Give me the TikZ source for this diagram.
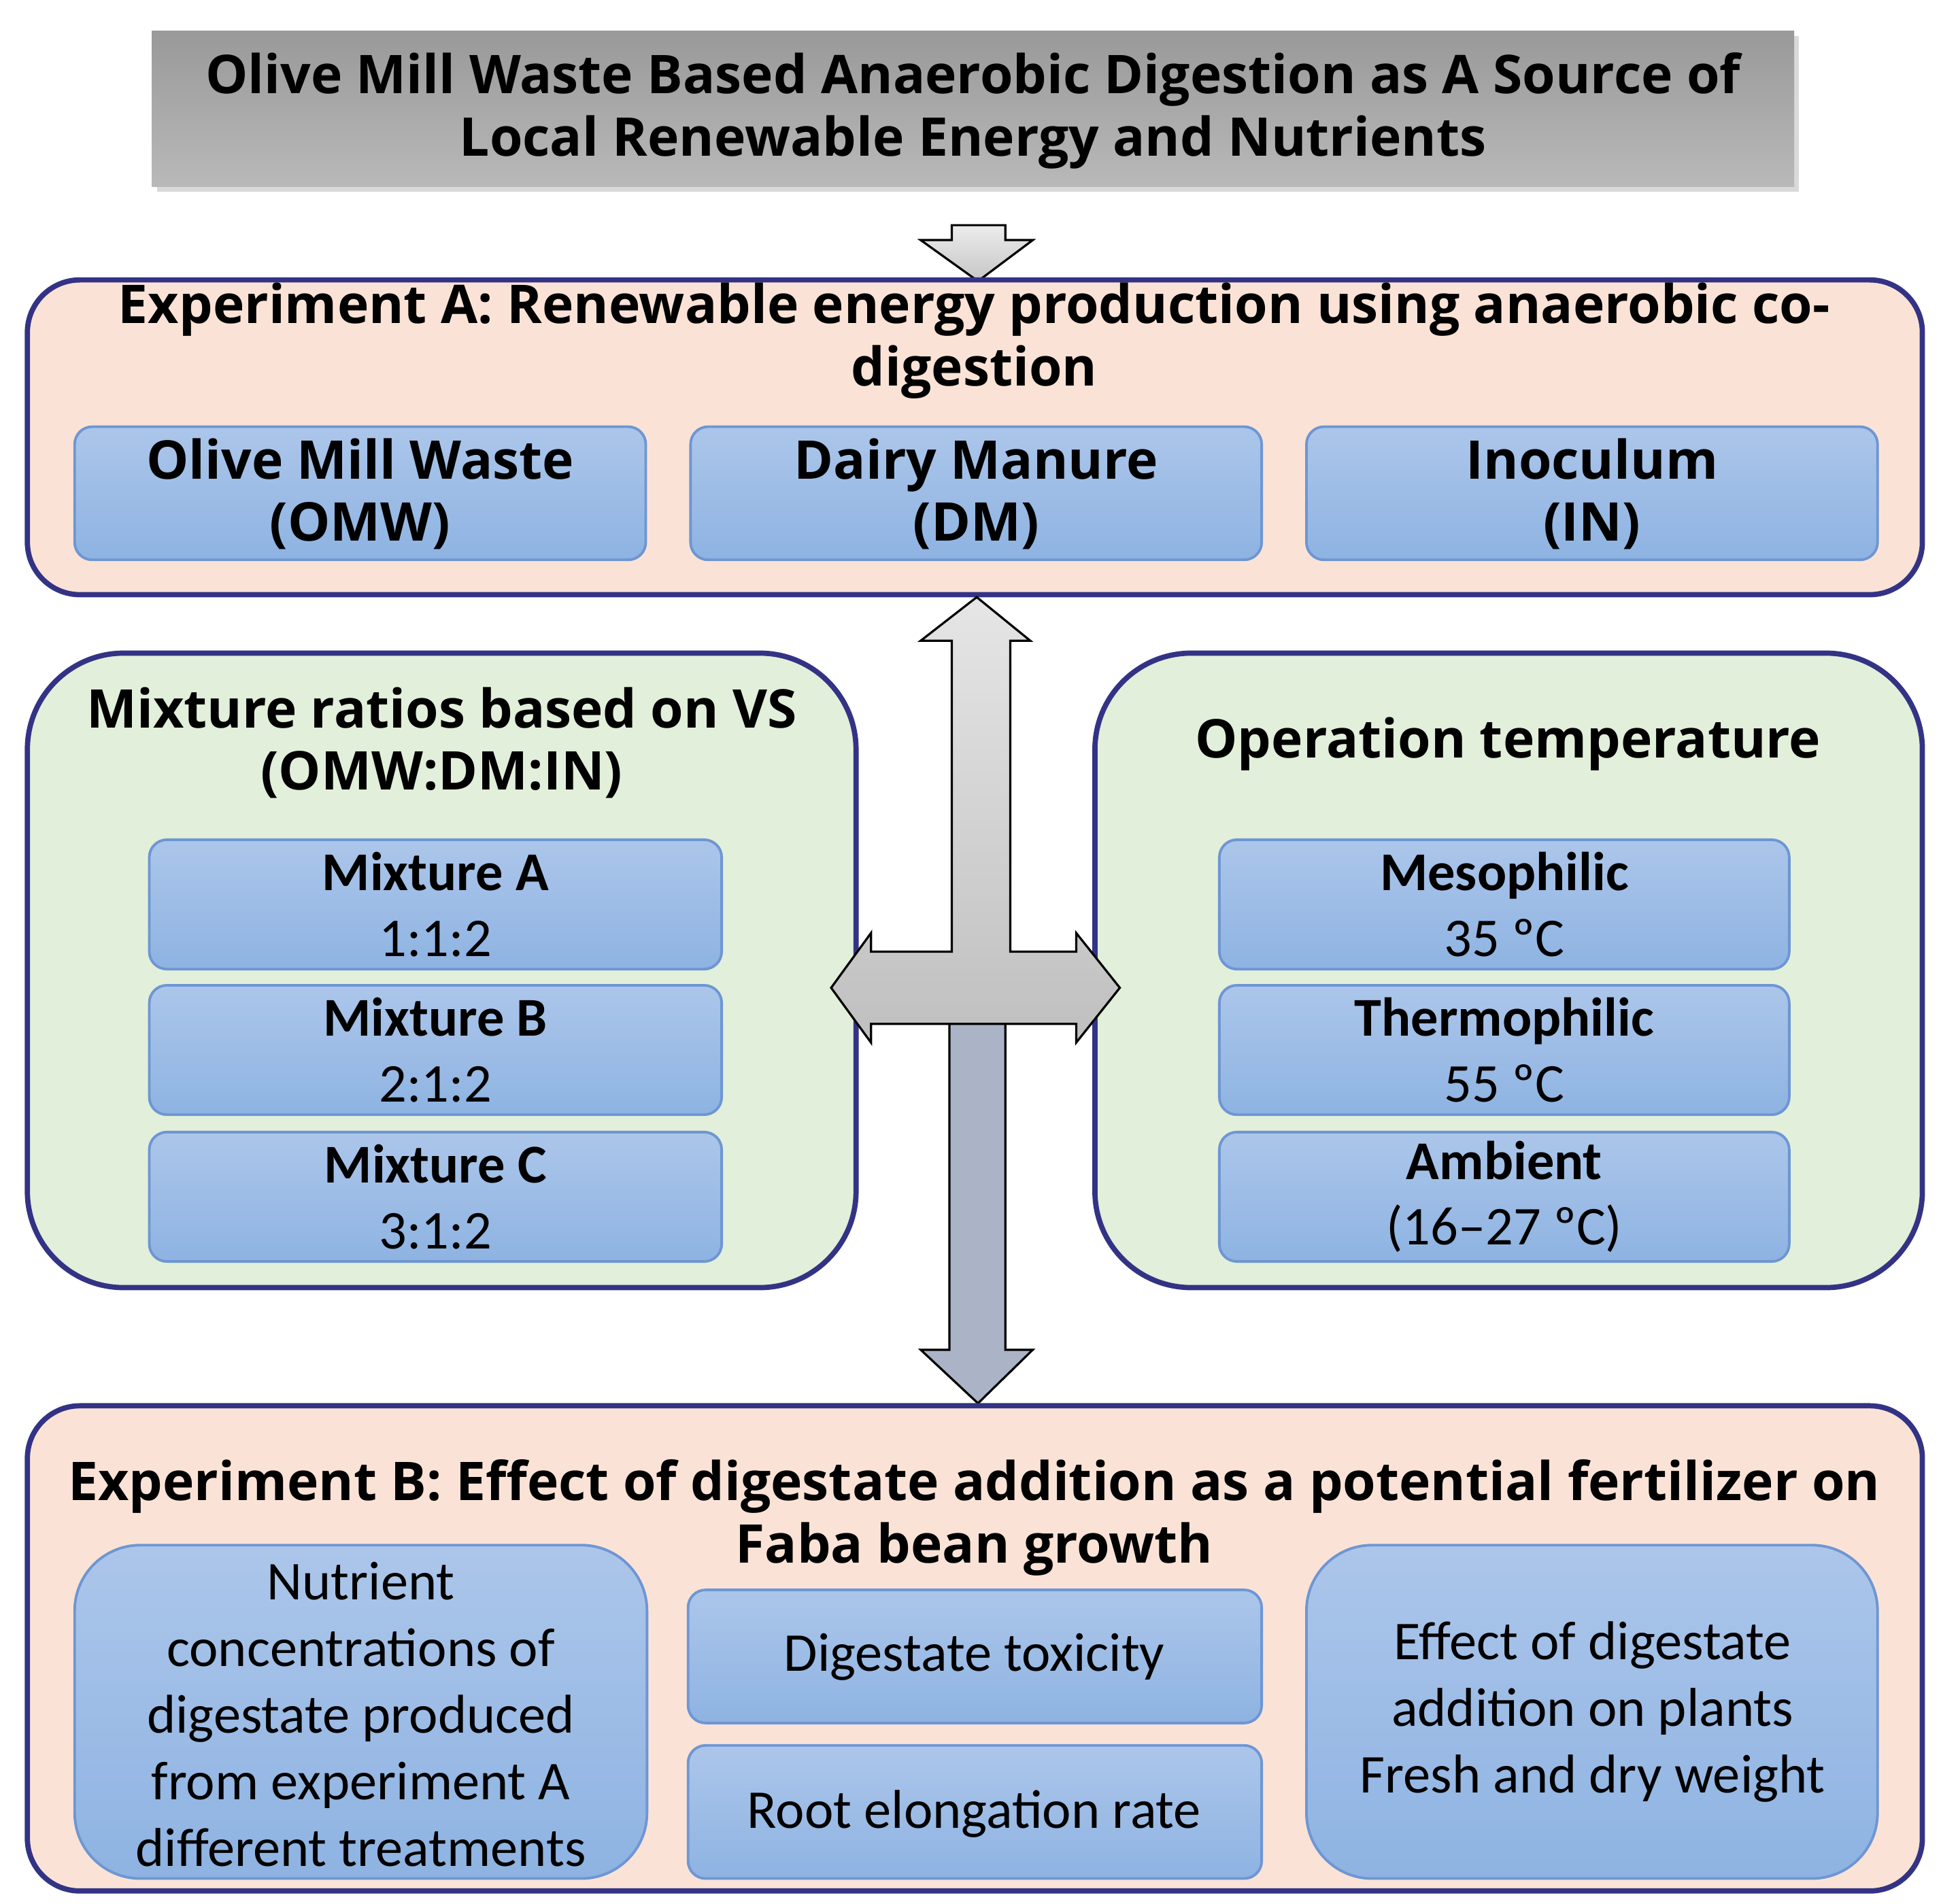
\documentclass[tikz,border=0pt]{standalone}
\usepackage{fontspec}
\setmainfont{Carlito}
\newfontfamily\hdr{Open Sans}
\begin{document}
\begin{tikzpicture}[x=0.01cm,y=-0.01cm,
  outer/.style={draw=blue!40!black!80,line width=1.2pt,rounded corners=12pt},
  peach/.style={outer,fill={rgb,255:red,250;green,227;blue,214}},
  green/.style={outer,fill={rgb,255:red,226;green,239;blue,218},rounded corners=22pt},
  inner/.style={draw={rgb,255:red,110;green,150;blue,212},line width=0.6pt,rounded corners=4pt,
    top color={rgb,255:red,172;green,198;blue,234},bottom color={rgb,255:red,142;green,179;blue,226}},
  H/.style={font=\hdr\bfseries\fontsize{12.2}{14.2}\selectfont,align=center},
  R/.style={font=\fontsize{12.5}{15}\selectfont,align=center},
  arr/.style={draw=black,line width=0.5pt}]
\useasboundingbox (0,0) rectangle (1560,1530);
% title
\fill[gray!30] (126,29) rectangle (1446,154);
\node[draw=none,top color=gray!80,bottom color=gray!55,minimum width=1320*0.01cm,minimum height=125*0.01cm,inner sep=0] (title) at (782,87.5) {};
\node[H] (tt) at (782,89) {Olive Mill Waste Based Anaerobic Digestion as A Source of\\Local Renewable Energy and Nutrients};
% small arrow
\path[arr,top color=gray!15,bottom color=gray!45] (765,181)--(808,181)--(808,193)--(830,193)--(786,226)--(740,193)--(765,193)--cycle;
% Experiment A
\draw[peach] (22,225) rectangle (1545,478);
\node[H] (ea) at (783,274) {Experiment A: Renewable energy production using anaerobic co-\\digestion};
\foreach \x/\t/\n in {60/{Olive Mill Waste\\(OMW)}/omw,555/{Dairy Manure\\(DM)}/dm,1050/{Inoculum\\(IN)}/in}{
  \draw[inner] (\x,343) rectangle ++(459,107);
  \node[H] (\n) at (\x+229.5,397) {\t};}
% green boxes
\draw[green] (22,525) rectangle (688,1035);
\draw[green] (880,525) rectangle (1545,1035);
\node[H] (mr) at (355,597) {Mixture ratios based on VS\\(OMW:DM:IN)};
\node[H] (ot) at (1212,598) {Operation temperature};
\foreach \y/\a/\b/\c/\d/\n in {675/Mixture A/1:1:2/Mesophilic/35 ºC/1,792/Mixture B/2:1:2/Thermophilic/55 ºC/2,910/Mixture C/3:1:2/Ambient/(16–27 ºC)/3}{
  \draw[inner] (120,\y) rectangle ++(460,104);
  \draw[inner] (980,\y) rectangle ++(458,104);
  \node[R] (m\n) at (350,\y+52) {\textbf{\a}\\\b};
  \node[R] (t\n) at (1209,\y+52) {\textbf{\c}\\\d};}
% big arrows
\path[arr,top color=gray!20,bottom color=gray!50] (785,480)--(828,515)--(812,515)--(812,765)--(865,765)--(865,750)--(900,794)--(865,838)--(865,823)--(700,823)--(700,838)--(668,794)--(700,750)--(700,765)--(765,765)--(765,515)--(740,515)--cycle;
\path[arr,fill={rgb,255:red,170;green,180;blue,198}] (763,823)--(808,823)--(808,1085)--(830,1085)--(786,1128)--(740,1085)--(763,1085)--cycle;
% Experiment B
\draw[peach] (22,1130) rectangle (1545,1520);
\node[H] (eb) at (783,1220) {Experiment B: Effect of digestate addition as a potential fertilizer on\\Faba bean growth};
\draw[inner,rounded corners=15pt] (60,1242) rectangle (520,1510);
\node[R,font=\fontsize{12.5}{15.2}\selectfont] (nc) at (290,1378) {Nutrient\\concentrations of\\digestate produced\\from experiment A\\different treatments};
\draw[inner] (553,1278) rectangle (1014,1385);
\node[R] (dt) at (783,1332) {Digestate toxicity};
\draw[inner] (553,1403) rectangle (1014,1510);
\node[R] (re) at (783,1458) {Root elongation rate};
\draw[inner,rounded corners=15pt] (1050,1242) rectangle (1509,1510);
\node[R,font=\fontsize{12.5}{15.2}\selectfont] (ef) at (1280,1376) {Effect of digestate\\addition on plants\\Fresh and dry weight};
\end{tikzpicture}
\end{document}
